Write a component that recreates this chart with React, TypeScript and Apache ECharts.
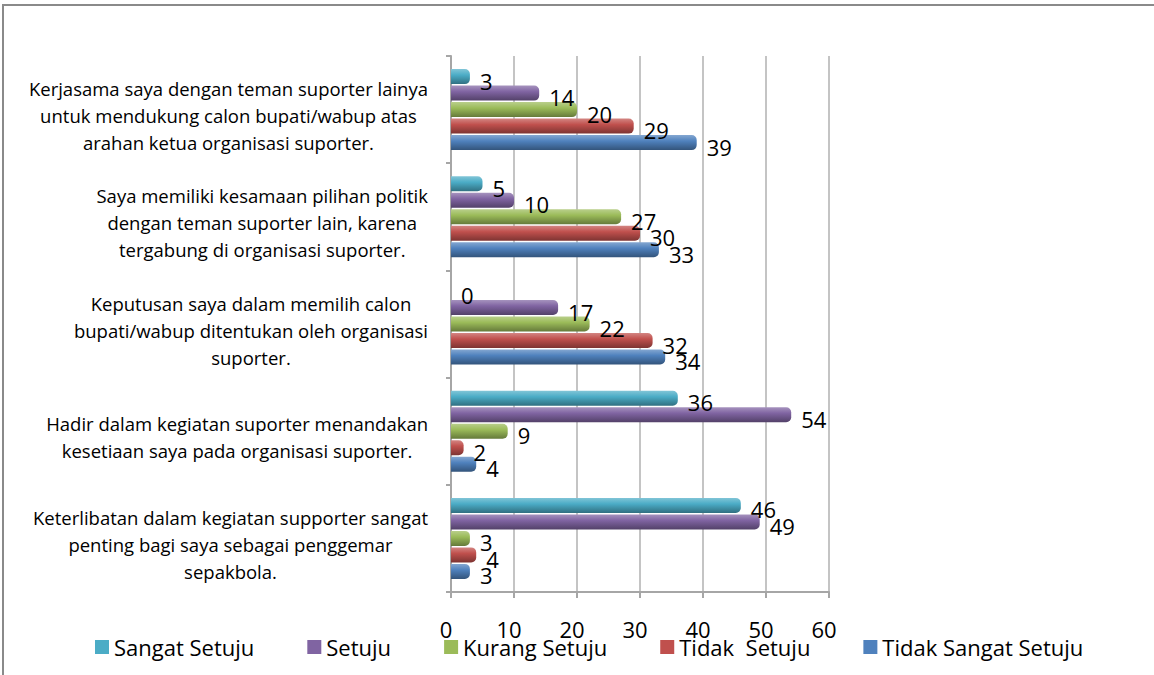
import React, { useEffect, useRef } from "react";
import * as echarts from "echarts";

const categories = [
  "Keterlibatan dalam kegiatan supporter sangat\npenting bagi saya sebagai penggemar\nsepakbola.",
  "Hadir dalam kegiatan suporter menandakan\nkesetiaan saya pada organisasi suporter.",
  "Keputusan saya dalam memilih calon\nbupati/wabup ditentukan oleh organisasi\nsuporter.",
  "Saya memiliki kesamaan pilihan politik\ndengan teman suporter lain, karena\ntergabung di organisasi suporter.",
  "Kerjasama saya dengan teman suporter lainya\nuntuk mendukung calon bupati/wabup atas\narahan ketua organisasi suporter.",
];

const sangatSetuju = [46, 36, 0, 5, 3];
const setuju = [49, 54, 17, 10, 14];
const kurangSetuju = [3, 9, 22, 27, 20];
const tidakSetuju = [4, 2, 32, 30, 29];
const tidakSangatSetuju = [3, 4, 34, 33, 39];

const seriesNames = ["Sangat Setuju", "Setuju", "Kurang Setuju", "Tidak  Setuju", "Tidak Sangat Setuju"];
const seriesValues = [sangatSetuju, setuju, kurangSetuju, tidakSetuju, tidakSangatSetuju];
const seriesColors = ["#4BACC6", "#8064A2", "#9BBB59", "#C0504D", "#4F81BD"];

const xTicks = [0, 10, 20, 30, 40, 50, 60];

const FONT = "Open Sans";

function mix(hex: string, target: number, t: number) {
  const n = parseInt(hex.slice(1), 16);
  const r = (n >> 16) & 255, g = (n >> 8) & 255, b = n & 255;
  const f = (c: number) => Math.round(c + (target - c) * t);
  return `rgb(${f(r)},${f(g)},${f(b)})`;
}

export default function App() {
  const ref = useRef<HTMLDivElement>(null);
  useEffect(() => {
    if (!ref.current) return;
    const chart = echarts.init(ref.current, undefined, { renderer: "svg" });
    const series = seriesNames.map((name, i) => ({
      name,
      type: "bar",
      data: seriesValues[i],
      barWidth: 15,
      barGap: "10%",
      itemStyle: {
        color: new echarts.graphic.LinearGradient(0, 0, 0, 1, [
          { offset: 0, color: mix(seriesColors[i], 255, 0.3) },
          { offset: 0.4, color: seriesColors[i] },
          { offset: 1, color: mix(seriesColors[i], 0, 0.35) },
        ]),
        borderRadius: [0, 5, 5, 0],
      },
      label: {
        show: true,
        position: "right",
        distance: 5,
        offset: [5, 4],
        fontSize: 22,
        fontFamily: FONT,
        color: "#000",
      },
    }));
    chart.setOption({
      animation: false,
      backgroundColor: "#fff",
      graphic: [
        {
          type: "rect",
          shape: { x: 3, y: 5, width: 1300, height: 800 },
          style: { fill: "none", stroke: "#8a8a8a", lineWidth: 2 },
          silent: true,
        },
      ],
      legend: {
        left: 90,
        top: 631,
        itemWidth: 14,
        itemHeight: 14,
        itemGap: 53,
        icon: "rect",
        textStyle: { fontSize: 22, fontFamily: FONT, color: "#000" },
        data: seriesNames.map((n, i) => ({ name: n, itemStyle: { color: seriesColors[i] } })),
      },
      grid: { left: 451, right: 325, top: 56, bottom: 83, containLabel: false },
      xAxis: {
        type: "value",
        min: 0,
        max: 60,
        interval: 10,
        axisLine: { show: true, lineStyle: { color: "#a6a6a6", width: 2 } },
        axisTick: { show: true, length: 6, lineStyle: { color: "#a6a6a6", width: 2 } },
        splitLine: { show: true, lineStyle: { color: "#c4c4c4", width: 2 } },
        axisLabel: {
          margin: 26,
          fontSize: 22,
          fontFamily: FONT,
          color: "#000",
          padding: [0, 10, 0, 0],
          formatter: (v: number) => (xTicks.includes(v) ? String(v) : ""),
        },
      },
      yAxis: {
        type: "category",
        data: categories,
        axisLine: { show: true, lineStyle: { color: "#a6a6a6", width: 2 } },
        axisTick: { show: true, length: 5, lineStyle: { color: "#a6a6a6", width: 2 } },
        axisLabel: {
          margin: 23,
          align: "right",
          padding: [12, 0, 0, 0],
          formatter: (v: string) => v.split("\n").map((l) => `{c|${l}}`).join("\n"),
          rich: {
            c: { align: "center", fontSize: 18.5, fontFamily: FONT, color: "#000", lineHeight: 27 },
          },
        },
      },
      series,
    });
    return () => chart.dispose();
  }, []);
  return (
    <div
      ref={ref}
      style={{ position: "fixed", left: 0, top: 0, width: 1154, height: 675 }}
    />
  );
}
